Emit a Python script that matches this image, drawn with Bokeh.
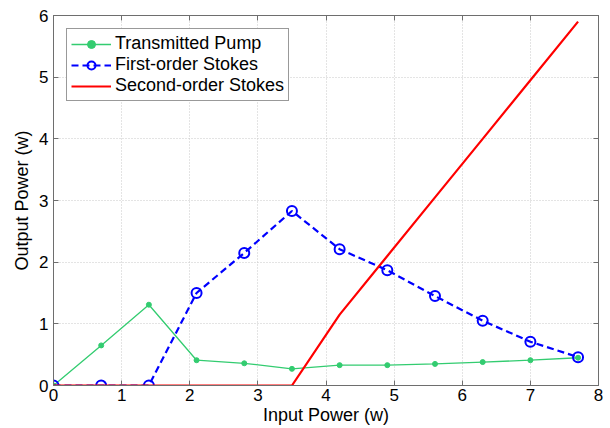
from bokeh.plotting import figure
from bokeh.models import LinearAxis, Legend, LegendItem, FixedTicker, Range1d
from bokeh.embed import file_html
from bokeh.resources import INLINE

# Data
input_power = [0, 0.7, 1.4, 2.1, 2.8, 3.5, 4.2, 4.9, 5.6, 6.3, 7.0, 7.7]
transmitted_pump = [0, 0.65, 1.31, 0.41, 0.36, 0.27, 0.33, 0.33, 0.35, 0.38, 0.41, 0.45]
first_stokes = [0, 0, 0, 1.5, 2.15, 2.83, 2.21, 1.87, 1.45, 1.05, 0.71, 0.46]
second_stokes = [0, 0, 0, 0, 0, 0, 1.15, 2.1, 3.05, 4.0, 4.95, 5.9]
x_ticks = [0, 1, 2, 3, 4, 5, 6, 7, 8]
y_ticks = [0, 1, 2, 3, 4, 5, 6]

FONT = "Liberation Sans"
AX = "#6e6e6e"

p = figure(frame_width=545, frame_height=370, output_backend="svg", toolbar_location=None,
           x_range=Range1d(0, 8), y_range=Range1d(0, 6),
           min_border_left=53, min_border_right=12, min_border_top=15, min_border_bottom=43,
           background_fill_color="white", border_fill_color="white")
p.outline_line_color = AX

for ax in (p.xaxis[0], p.yaxis[0]):
    ax.major_tick_in = 5
    ax.major_tick_out = 0
    ax.minor_tick_in = 0
    ax.minor_tick_out = 0
    ax.axis_line_color = AX
    ax.major_tick_line_color = AX
    ax.major_label_text_font = FONT
    ax.major_label_text_font_size = "17px"
    ax.major_label_text_color = "black"
    ax.axis_label_text_font = FONT
    ax.axis_label_text_font_size = "18px"
    ax.axis_label_text_font_style = "normal"
    ax.axis_label_text_color = "black"
p.xaxis[0].ticker = FixedTicker(ticks=x_ticks)
p.yaxis[0].ticker = FixedTicker(ticks=y_ticks)
p.xaxis[0].axis_label = "Input Power (w)"
p.yaxis[0].axis_label = "Output Power (w)"
p.xaxis[0].axis_label_standoff = 1
p.yaxis[0].axis_label_standoff = 4
p.xaxis[0].major_label_standoff = 3
p.yaxis[0].major_label_standoff = 5

for loc, tk in (("right", y_ticks), ("above", x_ticks)):
    a = LinearAxis(ticker=FixedTicker(ticks=tk),
                   major_label_overrides={t: "" for t in tk},
                   major_tick_in=5, major_tick_out=0, minor_tick_in=0, minor_tick_out=0,
                   axis_line_color=AX, major_tick_line_color=AX, major_label_standoff=0)
    p.add_layout(a, loc)

p.xgrid.ticker = FixedTicker(ticks=x_ticks)
p.ygrid.ticker = FixedTicker(ticks=y_ticks)
p.grid.grid_line_color = "#c8c8c8"
p.grid.grid_line_dash = "1 2"
p.grid.grid_line_width = 1

GREEN = "#33cc70"
BLUE = "#0000ff"
RED = "#ff0000"

g_line = p.line(input_power, transmitted_pump, line_color=GREEN, line_width=1.3)
g_pts = p.scatter(input_power, transmitted_pump, marker="circle", size=5,
                  fill_color=GREEN, line_color=GREEN)
b_line = p.line(input_power, first_stokes, line_color=BLUE, line_width=2.2, line_dash="7 4")
b_pts = p.scatter(input_power, first_stokes, marker="circle", size=10,
                  fill_color=None, line_color=BLUE, line_width=2)
r_line = p.line(input_power, second_stokes, line_color=RED, line_width=2.2)

legend = Legend(items=[
    LegendItem(label="Transmitted Pump", renderers=[g_line, g_pts]),
    LegendItem(label="First-order Stokes", renderers=[b_line, b_pts]),
    LegendItem(label="Second-order Stokes", renderers=[r_line]),
], location="top_left")
legend.margin = 13
legend.padding = 4
legend.spacing = 0
legend.label_height = 20
legend.glyph_height = 20
legend.glyph_width = 40
legend.label_standoff = 4
legend.label_text_font = FONT
legend.label_text_font_size = "18px"
legend.label_text_color = "black"
legend.border_line_color = "#333333"
legend.border_line_width = 1
legend.background_fill_alpha = 1
p.add_layout(legend, "center")

open("out.html", "w").write(file_html(p, INLINE))
